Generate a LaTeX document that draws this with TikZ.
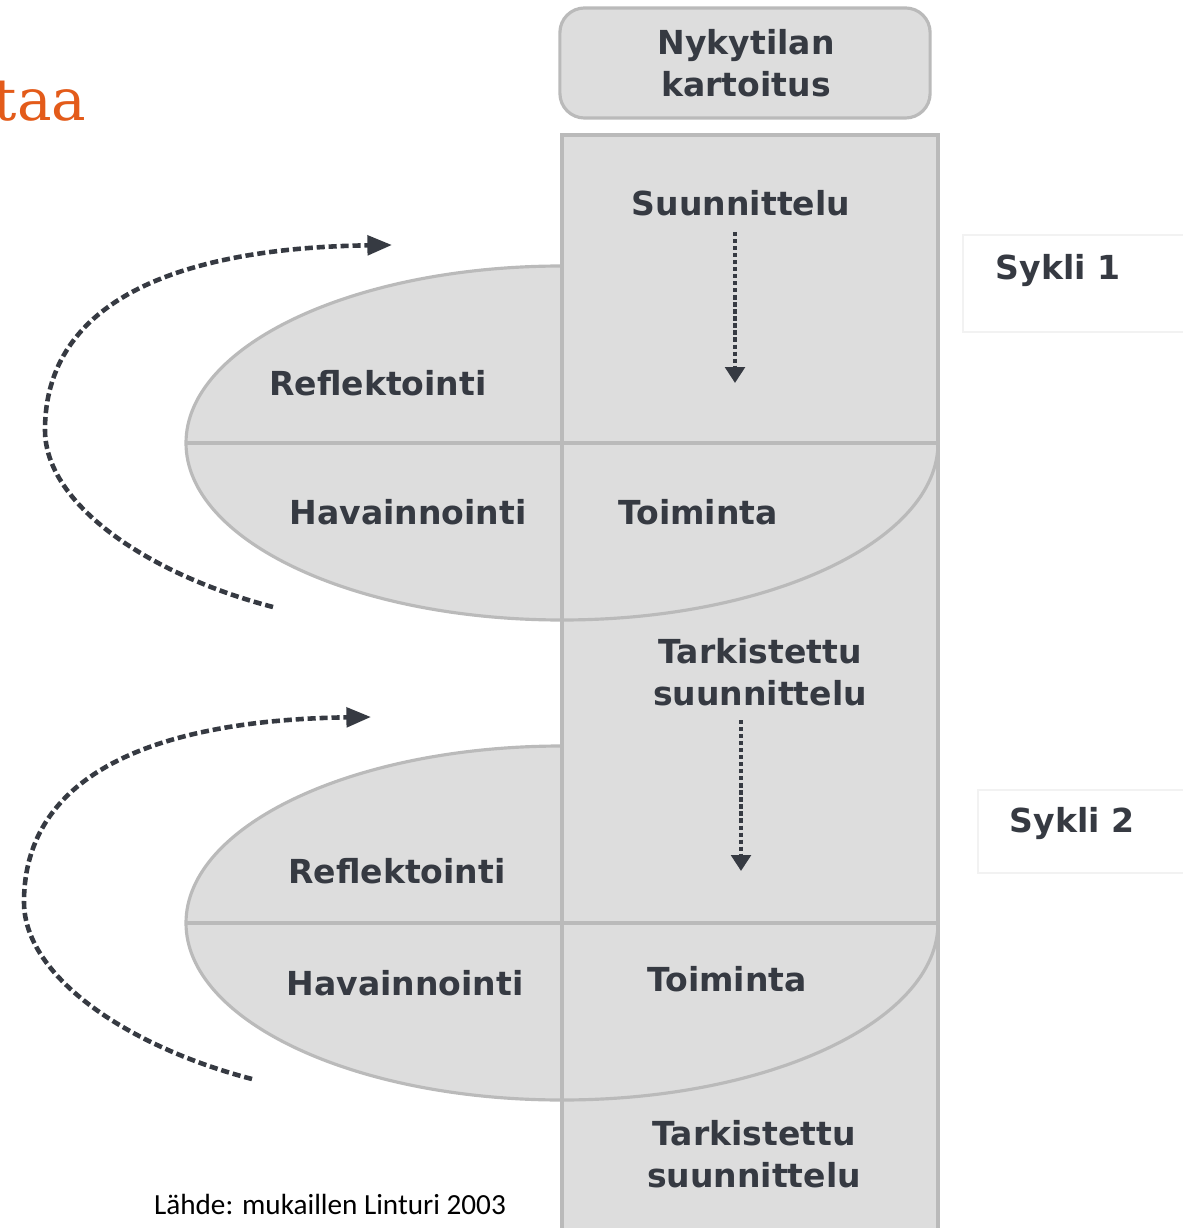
\documentclass[tikz,border=0pt]{standalone}
\usepackage{fontspec}
\setmainfont{DejaVu Sans}
\newfontfamily\lahdefont{Carlito}
\newfontfamily\otsikkofont{DejaVu Serif}
\usetikzlibrary{arrows.meta}

\definecolor{harmaa}{HTML}{DDDDDD}
\definecolor{reuna}{HTML}{BABABA}
\definecolor{teksti}{HTML}{363A42}
\definecolor{oranssi}{HTML}{E35B1A}

\tikzset{
  kuvio/.style={fill=harmaa, draw=reuna, line width=0.9pt},
  viiva/.style={draw=reuna, line width=0.9pt},
  sana/.style={font=\bfseries\fontsize{9.4}{12}\selectfont, text=teksti, align=center, inner sep=0pt},
  nykybox/.style={kuvio, rounded corners=7pt, minimum width=3.7cm, minimum height=1.1cm},
  syklibox/.style={draw=black!5, fill=white, line width=0.6pt},
  kierto/.style={draw=teksti, line width=1.3pt, dash pattern=on 2.3pt off 1.1pt, -{Triangle[length=7pt,width=5.5pt]}},
  jatko/.style={draw=teksti, line width=1.4pt, dash pattern=on 1.2pt off 0.8pt, -{Triangle[length=4.5pt,width=5.5pt]}}
}

\begin{document}
\begin{tikzpicture}[x=0.01cm,y=-0.01cm]

      \useasboundingbox (0,0) rectangle (1183,1228);
      \clip (0,0) rectangle (1183,1228);

      % ellipses behind the column
      \draw[kuvio] (562,443) ellipse [x radius=376, y radius=177];
      \draw[kuvio] (562,923) ellipse [x radius=376, y radius=177];

      % column
      \draw[kuvio] (562,135) rectangle (938,1240);

      \draw[viiva] (938,443) arc[start angle=0, end angle=90, x radius=376, y radius=177];
      \draw[viiva] (938,923) arc[start angle=0, end angle=90, x radius=376, y radius=177];
      \draw[viiva] (186,443) -- (938,443);
      \draw[viiva] (186,923) -- (938,923);

      % cycle labels
      \draw[syklibox] (963,235) rectangle (1195,332);
      \draw[syklibox] (978,790) rectangle (1195,873);

      \node (nyky) [nykybox] at (745,63) {};

      \begin{scope}[every node/.style={sana}]
        \node (nyky1) at (746,63)   {Nykytilan\\kartoitus};
        \node (suun1) at (741,203)  {Suunnittelu};
        \node (refl1) at (378,383)  {Reflektointi};
        \node (hav1)  at (408,512)  {Havainnointi};
        \node (toim1) at (698,512)  {Toiminta};
        \node (tark1) at (760,672)  {Tarkistettu\\suunnittelu};
        \node (refl2) at (397,871)  {Reflektointi};
        \node (hav2)  at (405,983)  {Havainnointi};
        \node (toim2) at (727,979)  {Toiminta};
        \node (tark2) at (754,1154) {Tarkistettu\\suunnittelu};
        \node (syk1)  at (1058,271) {Sykli 1};
        \node (syk2)  at (1072,824) {Sykli 2};
      \end{scope}

      \node (otsikko) [anchor=base east, inner sep=0pt, text=oranssi,
        font=\otsikkofont\fontsize{16.5}{19}\selectfont] at (87,121) {taa};
      \node (lahde) [anchor=base, inner sep=0pt,
        font=\lahdefont\fontsize{8.3}{10}\selectfont] at (330,1214) {Lähde: mukaillen Linturi 2003};

      % arrows
      \coordinate (n1a) at (735,232);
      \coordinate (n1b) at (735,383);
      \coordinate (n2a) at (741,720);
      \coordinate (n2b) at (741,871);
      \coordinate (k1a) at (273,607);
      \coordinate (k1b) at (392,245);
      \coordinate (k2a) at (252,1079);
      \coordinate (k2b) at (371,717);

      \draw[jatko] (n1a) -- (n1b);
      \draw[jatko] (n2a) -- (n2b);
      \draw[kierto] (k1a) .. controls (150,575) and (45,505) .. (45,430)
                          .. controls (45,300) and (180,248) .. (k1b);
      \draw[kierto] (k2a) .. controls (129,1047) and (24,977) .. (24,902)
                          .. controls (24,772) and (159,720) .. (k2b);

    \end{tikzpicture}
\end{document}
